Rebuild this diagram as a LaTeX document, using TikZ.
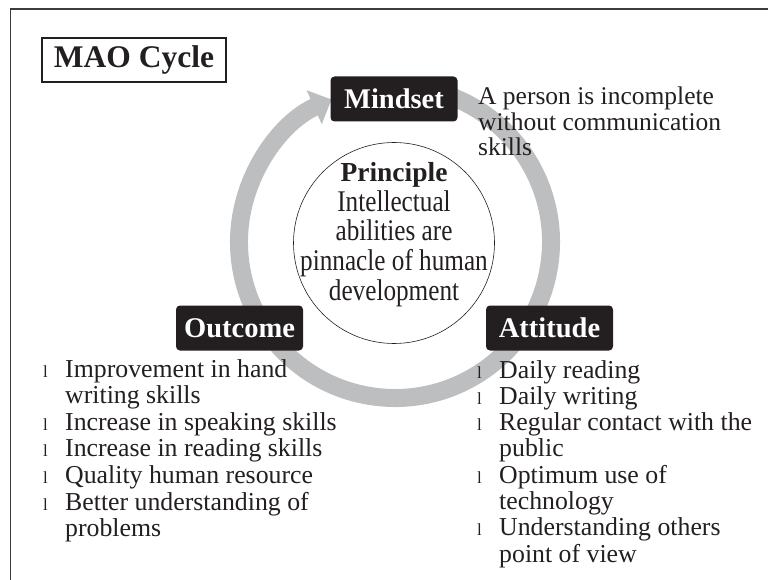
\documentclass[tikz,border=0pt]{standalone}
\usepackage{fontspec}
\setmainfont{Liberation Serif}
\newfontfamily\narrowfont[FakeStretch=0.84]{Liberation Serif}
\usetikzlibrary{arrows.meta}
\definecolor{ringgray}{RGB}{189,190,192}
\definecolor{boxblack}{RGB}{35,31,32}
\definecolor{framegray}{RGB}{60,60,60}
\definecolor{textblack}{RGB}{35,31,32}
\newcommand{\bul}{\makebox[22pt][l]{\fontsize{17}{17}\selectfont l}}
\newcommand{\nob}{\makebox[22pt][l]{}}
\begin{document}
\begin{tikzpicture}[x=1pt,y=-1pt,
  labelbox/.style={fill=boxblack, rounded corners=4pt, text=white,
    font=\bfseries\fontsize{28.5}{28.5}\selectfont,
    minimum width=127pt, minimum height=45pt, inner sep=0pt},
  bodytext/.style={text=textblack, inner sep=0pt, anchor=base west},
  ring/.style={ringgray, line width=18pt, -{Triangle[width=36pt,length=19pt]}}
]
\useasboundingbox (0,0) rectangle (768,580);
% frame
\draw[framegray, line width=1.3pt] (10.5,580) -- (10.5,9) -- (768,9);
% title
\node[draw=textblack, line width=1.5pt, minimum width=184pt, minimum height=44pt,
  inner sep=0pt, text=textblack, font=\bfseries\fontsize{31.5}{31.5}\selectfont]
  (title) at (134,60) {MAO Cycle};
% ring
\coordinate (ringc) at (395,242);
\draw[ring] (ringc) ++(-80:156) arc[start angle=-80, end angle=246, radius=156];
% central circle
\node[draw=textblack, circle, minimum size=201pt, line width=0.6pt, inner sep=0pt]
  (principle) at (394,243) {};
\node[text=textblack, inner sep=0pt, anchor=base,
  font=\narrowfont\fontsize{30}{28.75}\selectfont] (principletext) at (394,182)
  {\begin{tabular}[t]{@{}c@{}}
   {\rmfamily\bfseries\fontsize{27.5}{27.5}\selectfont Principle}\\
   Intellectual\\
   abilities are\\
   pinnacle of human\\
   development
   \end{tabular}};
% label boxes
\node[labelbox] (mindset) at (394,99) {Mindset};
\node[labelbox] (outcome) at (239.5,328) {Outcome};
\node[labelbox] (attitude) at (549.5,328) {Attitude};
% mindset text
\node[bodytext, font=\fontsize{25.5}{25.5}\selectfont] (mindsettext) at (478,105)
  {\begin{tabular}[t]{@{}l@{}}
   A person is incomplete\\
   without communication\\
   skills
   \end{tabular}};
% outcome list
\node[bodytext, font=\fontsize{25.8}{26.6}\selectfont] (outcomelist) at (43,377)
  {\begin{tabular}[t]{@{}l@{}l@{}}
   \bul & Improvement in hand\\
   \nob & writing skills\\
   \bul & Increase in speaking skills\\
   \bul & Increase in reading skills\\
   \bul & Quality human resource\\
   \bul & Better understanding of\\
   \nob & problems
   \end{tabular}};
% attitude list
\node[bodytext, font=\fontsize{25.8}{26.3}\selectfont] (attitudelist) at (477,378)
  {\begin{tabular}[t]{@{}l@{}l@{}}
   \bul & Daily reading\\
   \bul & Daily writing\\
   \bul & Regular contact with the\\
   \nob & public\\
   \bul & Optimum use of\\
   \nob & technology\\
   \bul & Understanding others\\
   \nob & point of view
   \end{tabular}};
\end{tikzpicture}
\end{document}
